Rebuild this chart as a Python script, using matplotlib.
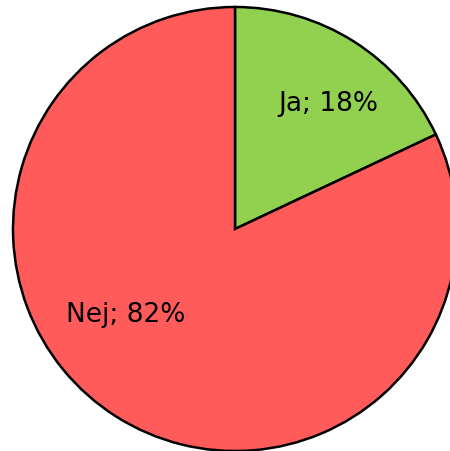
import matplotlib
matplotlib.use("Agg")
import matplotlib.pyplot as plt

labels = ["Ja", "Nej"]
shares = [18, 82]
colors = ["#92D050", "#FF5B5B"]

# pixel geometry of the reference (450x451, centre at 235,229, radius 222)
W, H = 450, 451
cx, cy, r = 235, 229, 222

fig = plt.figure(figsize=(W / 100, H / 100), dpi=100)
ax = fig.add_axes([0, 0, 1, 1])

wedges, _ = ax.pie(shares, colors=colors, startangle=90, counterclock=False,
                   wedgeprops=dict(edgecolor="black", linewidth=1.8))

ax.set_xlim(-cx / r, (W - cx) / r)
ax.set_ylim(-(H - cy) / r, cy / r)
ax.set_aspect("equal")
ax.axis("off")

# label positions (pixels in the reference)
label_px = [(328, 104), (126, 315)]
for (lx, ly), lab, s in zip(label_px, labels, shares):
    ax.text((lx - cx) / r, (cy - ly) / r, f"{lab}; {s}%", ha="center", va="center",
            fontsize=19, color="black")

fig.savefig("out.png", dpi=100)
